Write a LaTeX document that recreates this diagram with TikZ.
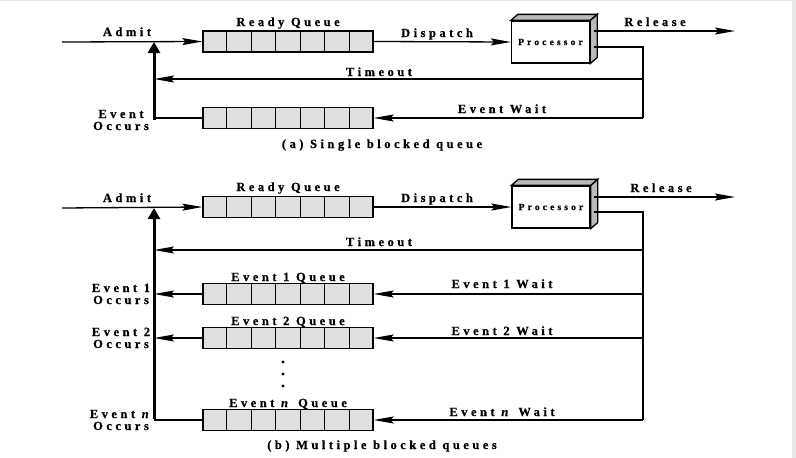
\documentclass[tikz,border=0pt]{standalone}
\usepackage{fontspec}
\setmainfont{Liberation Serif}
\usetikzlibrary{arrows.meta,calc}
\newcommand\myqueue[3]{%
  \node[queuebox] (#1) at (#2,#3) {};
  \foreach \k in {1,...,6}
    \draw[conn] ($(#1.north west)!\k/7!(#1.north east)$) -- ($(#1.south west)!\k/7!(#1.south east)$);
}
\newcommand\myproc[3]{%
  \node[procbox] (#1) at (#2,#3) {Processor};
  \filldraw[conn,fill=gray!55] (#1.north east) -- ++(7,-6) -- ($(#1.south east)+(7,-6)$) -- (#1.south east) -- cycle;
  \filldraw[conn,fill=gray!55] (#1.north west) -- ++(7,-6) -- ($(#1.north east)+(7,-6)$) -- (#1.north east) -- cycle;
}
\tikzset{
  conn/.style={line width=1.3pt,draw=black},
  arr/.style={conn,-{Stealth[length=20pt,width=7pt,inset=3pt]}},
  bigarr/.style={line width=3pt,draw=black,-{Triangle[length=11pt,width=12pt]}},
  lbl/.style={font=\fontsize{12.5}{12}\selectfont\bfseries\addfontfeature{LetterSpace=28,FakeBold=0.6},inner sep=0pt,text height=8pt,text depth=0pt,align=center},
  smalllbl/.style={font=\fontsize{9.5}{10}\selectfont\bfseries\addfontfeature{LetterSpace=33,FakeBold=0.6},inner sep=0pt},
  queuebox/.style={conn,fill=gray!25,minimum width=170pt,minimum height=21pt,inner sep=0pt},
  procbox/.style={conn,fill=white,minimum width=78pt,minimum height=42pt,inner sep=0pt,smalllbl},
}
\begin{document}
\begin{tikzpicture}[x=1pt,y=-1pt]
\useasboundingbox (0,0) rectangle (796,458);
\fill[gray!18] (792,0) rectangle (796,458);
\fill[gray!18] (0,0) rectangle (796,1);

% ---------- (a) ----------
\myqueue{rq1}{288}{41.5}
\myqueue{bq1}{288}{118}
\myproc{p1}{550.5}{42}
\coordinate (a1s) at (62,42);
\coordinate (j1) at (154,42);
\coordinate (o1) at (154,118);
\coordinate (r1s) at (594,31);
\coordinate (r1e) at (735,31);
\coordinate (e1s) at (594,47);
\coordinate (c1) at (643,118);
\coordinate (t1r) at (643,79);
\coordinate (t1l) at (154,79);

\draw[arr] (a1s) -- (rq1.west);
\draw[arr] (rq1.east) -- (p1.west);
\draw[arr] (r1s) -- (r1e);
\draw[conn] (e1s) -| (c1);
\draw[arr] (c1) -- (bq1.east);
\draw[arr] (t1r) -- (t1l);
\draw[conn] (bq1.west) -- (o1);
\draw[bigarr] ([yshift=-1.5pt]o1) -- (j1);

\node[lbl] (l1) at (127,32) {Admit};
\node[lbl] (l2) at (288,22) {Ready Queue};
\node[lbl] (l3) at (437,33) {Dispatch};
\node[lbl] (l4) at (655,22) {Release};
\node[lbl] (l5) at (379,72) {Timeout};
\node[lbl] (l6) at (502,109) {Event Wait};
\node[lbl] (l7) at (121,126) {Event\\Occurs};
\node[lbl] (l8) at (382,144) {(a) Single blocked queue};

% ---------- (b) ----------
\myqueue{rq2}{288}{207}
\myqueue{q21}{288}{294}
\myqueue{q22}{288}{338}
\myqueue{q2n}{288}{420}
\myproc{p2}{551}{207}
\coordinate (a2s) at (62,208);
\coordinate (j2) at (154,208);
\coordinate (o2n) at (154,420);
\coordinate (o21) at (154,294);
\coordinate (o22) at (154,338);
\coordinate (r2s) at (594,197);
\coordinate (r2e) at (735,197);
\coordinate (e2s) at (594,212);
\coordinate (c2) at (643,420);
\coordinate (t2r) at (643,250);
\coordinate (t2l) at (154,250);
\coordinate (w21) at (643,294);
\coordinate (w22) at (643,338);

\draw[arr] (a2s) -- (rq2.west);
\draw[arr] (rq2.east) -- (p2.west);
\draw[arr] (r2s) -- (r2e);
\draw[conn] (e2s) -| (c2);
\draw[arr] (c2) -- (q2n.east);
\draw[arr] (w21) -- (q21.east);
\draw[arr] (w22) -- (q22.east);
\draw[arr] (t2r) -- (t2l);
\draw[arr] (q21.west) -- (o21);
\draw[arr] (q22.west) -- (o22);
\draw[conn] (q2n.west) -- (o2n);
\draw[bigarr] ([yshift=1.5pt]o2n) -- (j2);

\foreach \yy in {362,374,386} \fill (283,\yy) circle (1.6pt);

\node[lbl] (m1) at (127,198) {Admit};
\node[lbl] (m2) at (288,187) {Ready Queue};
\node[lbl] (m3) at (437,198) {Dispatch};
\node[lbl] (m4) at (661,188) {Release};
\node[lbl] (m5) at (379,242) {Timeout};
\node[lbl] (m6) at (288,277) {Event 1 Queue};
\node[lbl] (m7) at (288,321) {Event 2 Queue};
\node[lbl] (m8) at (288,403) {Event \textit{n} Queue};
\node[lbl] (m9) at (502,284) {Event 1 Wait};
\node[lbl] (m10) at (502,331) {Event 2 Wait};
\node[lbl] (m11) at (502,412) {Event \textit{n} Wait};
\node[lbl] (m12) at (121,300) {Event 1\\Occurs};
\node[lbl] (m13) at (121,344) {Event 2\\Occurs};
\node[lbl] (m14) at (121,426) {Event \textit{n}\\Occurs};
\node[lbl] (m15) at (382,445) {(b) Multiple blocked queues};
\end{tikzpicture}
\end{document}
